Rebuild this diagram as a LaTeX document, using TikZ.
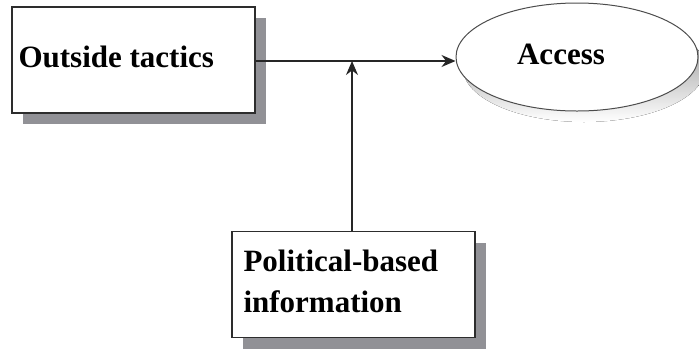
\documentclass[tikz,border=0pt]{standalone}
\usepackage{fontspec}
\setmainfont{Liberation Serif}[BoldFont={Liberation Serif Bold}]
\usetikzlibrary{shapes.geometric,arrows.meta}
\definecolor{shade}{RGB}{145,145,150}
\definecolor{edge}{RGB}{45,45,45}
\tikzset{
  textbox/.style={draw=edge, line width=1.6pt, fill=white, minimum width=243pt,
    minimum height=106pt, inner sep=0pt},
  boxshade/.style={fill=shade, draw=none, minimum width=243pt, minimum height=106pt},
  caption/.style={font=\rmfamily\bfseries\fontsize{31}{41}\selectfont, align=left},
  conn/.style={draw=black!85, line width=1.4pt, -{Stealth[length=14pt,width=12pt]}}
}
\begin{document}
\begin{tikzpicture}[x=1pt,y=-1pt]
  \useasboundingbox (0,0) rectangle (699,349);
  % shadows
  \node[boxshade] at (144.5,71) {};
  \node[boxshade] at (364.5,295.5) {};
  \fill[shade] (584,68) ellipse [x radius=121pt, y radius=54pt];
  % boxes
  \node[textbox] (tactics) at (133.5,60) {};
  \node[caption, anchor=west] (tacticstext) at (15,57) {Outside tactics};
  \node[textbox] (info) at (353.5,284.5) {};
  \node[caption, anchor=north west] (infotext) at (240,246) {Political-based\\information};
  % ellipse
  \node[ellipse, draw=black!70, line width=1pt, fill=white, minimum width=242pt,
        minimum height=108pt, inner sep=0pt] (access) at (577,57) {};
  \node[caption] (accesstext) at (561,54) {Access};
  % connectors
  \coordinate (join) at (352,61);
  \draw[conn] (tactics.east |- join) -- (access.west |- join);
  \draw[conn] (info.north -| join) -- (join);
\end{tikzpicture}
\end{document}
